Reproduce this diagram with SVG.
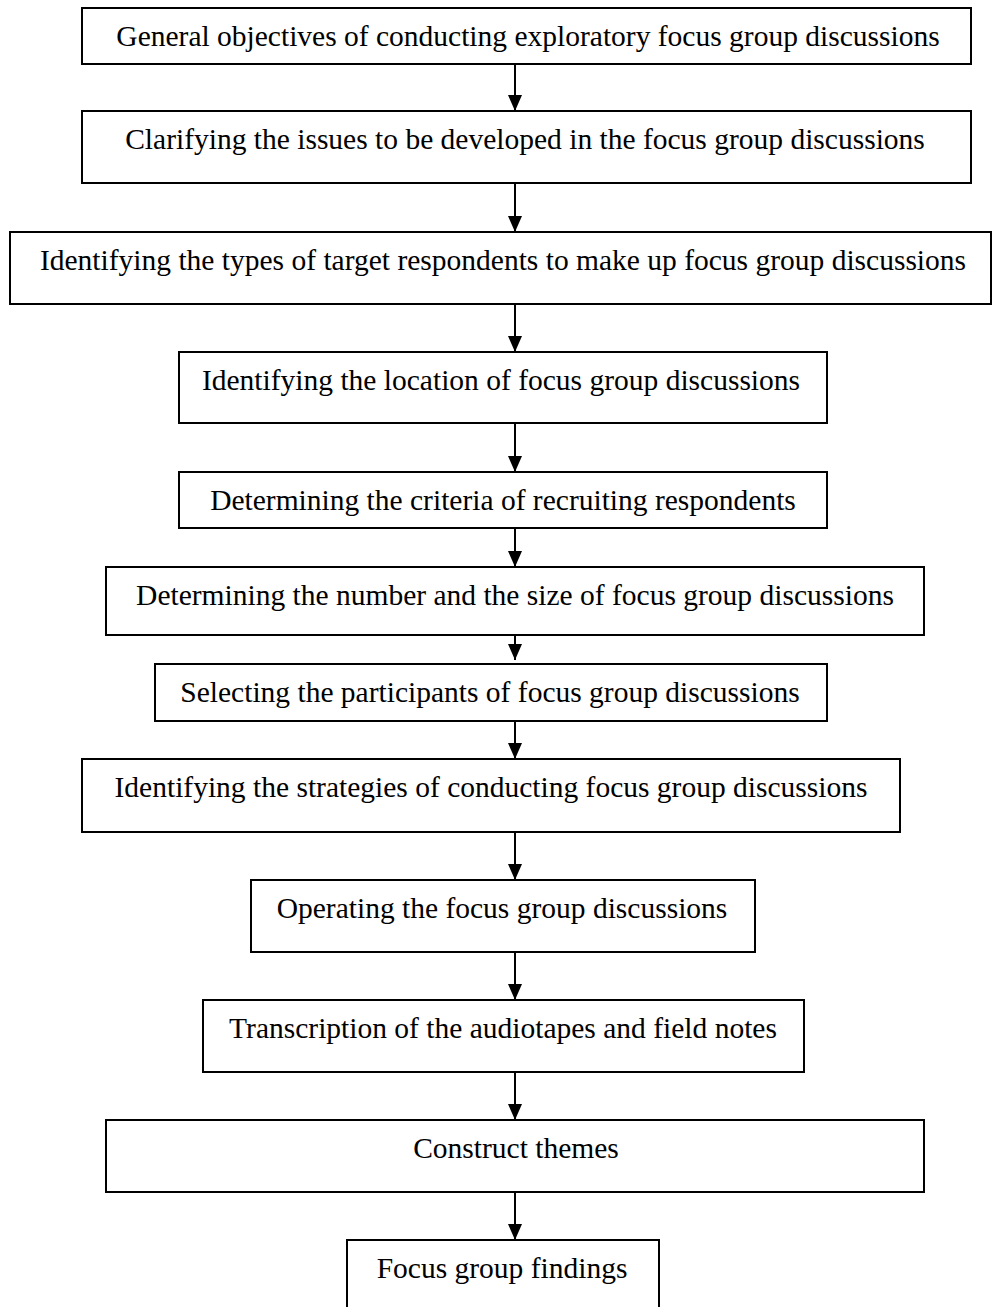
<svg xmlns="http://www.w3.org/2000/svg" width="992" height="1307" viewBox="0 0 992 1307">
<style>
rect{fill:#fff;stroke:#000;stroke-width:2}
text{font-family:"Liberation Serif","Times New Roman",serif;font-size:29.5px;fill:#000;text-anchor:middle}
.c line{stroke:#000;stroke-width:2}
</style>
<defs>
<marker id="a" markerUnits="userSpaceOnUse" markerWidth="16" markerHeight="14" refX="16" refY="7" orient="auto" viewBox="0 0 16 14"><path d="M0,0 L16,7 L0,14 Z" fill="#000"/></marker></defs>
<rect width="992" height="1307" fill="#fff" style="stroke:none"/>
<g class="c">
<line x1="515" y1="64" x2="515" y2="111" marker-end="url(#a)"/>
<line x1="515" y1="183" x2="515" y2="232" marker-end="url(#a)"/>
<line x1="515" y1="304" x2="515" y2="352" marker-end="url(#a)"/>
<line x1="515" y1="423" x2="515" y2="472" marker-end="url(#a)"/>
<line x1="515" y1="519" x2="515" y2="567" marker-end="url(#a)"/>
<line x1="515" y1="635" x2="515" y2="660" marker-end="url(#a)"/>
<line x1="515" y1="712" x2="515" y2="759" marker-end="url(#a)"/>
<line x1="515" y1="832" x2="515" y2="880" marker-end="url(#a)"/>
<line x1="515" y1="952" x2="515" y2="1000" marker-end="url(#a)"/>
<line x1="515" y1="1072" x2="515" y2="1120" marker-end="url(#a)"/>
<line x1="515" y1="1192" x2="515" y2="1240" marker-end="url(#a)"/>
</g>
<g id="n1"><rect x="82" y="8" width="889" height="56"/><text x="528" y="46">General objectives of conducting exploratory focus group discussions</text></g>
<g id="n2"><rect x="82" y="111" width="889" height="72"/><text x="525" y="149">Clarifying the issues to be developed in the focus group discussions</text></g>
<g id="n3"><rect x="10" y="232" width="981" height="72"/><text x="503" y="270">Identifying the types of target respondents to make up focus group discussions</text></g>
<g id="n4"><rect x="179" y="352" width="648" height="71"/><text x="501" y="390">Identifying the location of focus group discussions</text></g>
<g id="n5"><rect x="179" y="472" width="648" height="56"/><text x="503" y="510">Determining the criteria of recruiting respondents</text></g>
<g id="n6"><rect x="106" y="567" width="818" height="68"/><text x="515" y="605">Determining the number and the size of focus group discussions</text></g>
<g id="n7"><rect x="155" y="664" width="672" height="57"/><text x="490" y="702">Selecting the participants of focus group discussions</text></g>
<g id="n8"><rect x="82" y="759" width="818" height="73"/><text x="491" y="797">Identifying the strategies of conducting focus group discussions</text></g>
<g id="n9"><rect x="251" y="880" width="504" height="72"/><text x="502" y="918">Operating the focus group discussions</text></g>
<g id="n10"><rect x="203" y="1000" width="601" height="72"/><text x="503" y="1038">Transcription of the audiotapes and field notes</text></g>
<g id="n11"><rect x="106" y="1120" width="818" height="72"/><text x="516" y="1158">Construct themes</text></g>
<g id="n12"><rect x="347" y="1240" width="312" height="80"/><text x="502" y="1278">Focus group findings</text></g>
</svg>
